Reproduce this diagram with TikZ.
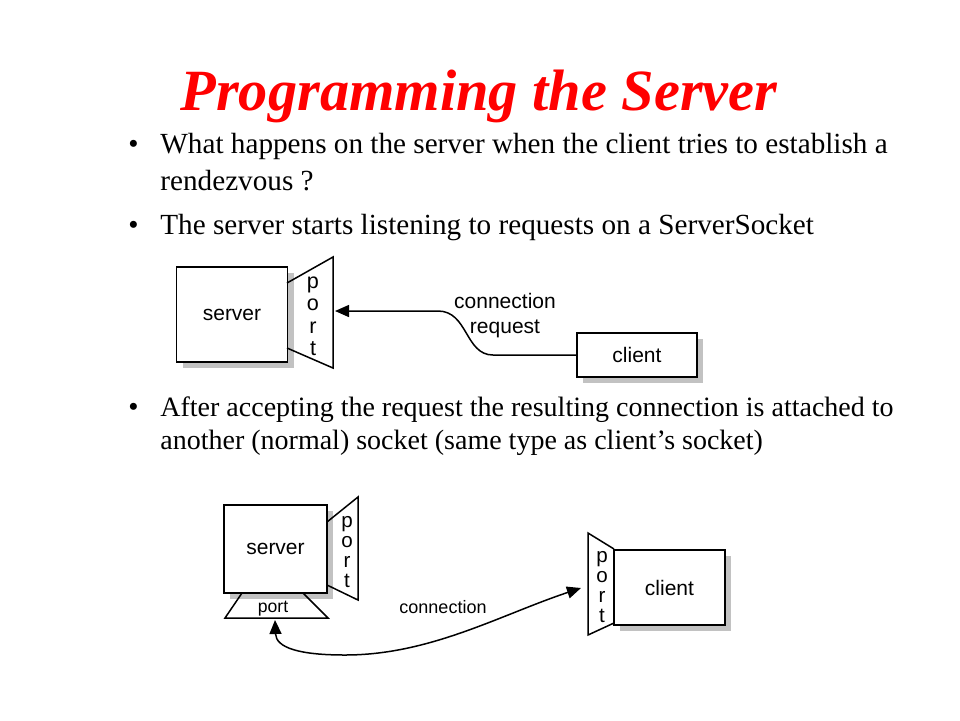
\documentclass[tikz,border=0pt]{standalone}
\usepackage{fontspec}
\setmainfont{Liberation Serif}
\newfontfamily\diagfont{Liberation Sans}
\usetikzlibrary{arrows.meta,shadows}

\begin{document}
\begin{tikzpicture}[x=0.5pt, y=-0.5pt, every node/.style={inner sep=0pt},
    body/.style={anchor=base west, font=\fontsize{14.6}{17}\selectfont},
    smallbody/.style={anchor=base west, font=\fontsize{14}{17}\selectfont},
    box/.style={draw, line width=0.75pt, fill=white, font=\diagfont\fontsize{10.5}{12}\selectfont,
        drop shadow={shadow xshift=3pt, shadow yshift=-3pt, fill=black!24, opacity=1}},
    portline/.style={line width=0.75pt, line join=miter},
    conn/.style={line width=0.75pt, >={Triangle[length=7pt, width=6pt]}}]
    \useasboundingbox (0,0) rectangle (960,720);

    % Title
    \node[anchor=base, text=red, font=\fontsize{29.2}{34}\selectfont\bfseries\itshape] (title) at (479,110) {Programming the Server};

    % Bullets
    \foreach \y/\n in {153/1, 234/2, 416/3} {
        \node[body] (dot\n) at (128,\y) {\textbullet};
    }
    \node[body] (b1a) at (160,153) {What happens on the server when the client tries to establish a};
    \node[body] (b1b) at (160,190) {rendezvous ?};
    \node[body] (b2) at (160,234) {The server starts listening to requests on a ServerSocket};
    \node[smallbody] (b3a) at (160,416) {After accepting the request the resulting connection is attached to};
    \node[smallbody] (b3b) at (160,449) {another (normal) socket (same type as client’s socket)};

    % First picture: listening socket
    \node[box, minimum width=55.5pt, minimum height=47.5pt] (server1) at (232,314.5) {server};
    \node[box, minimum width=60pt, minimum height=22pt] (client1) at (637,355) {client};
    \draw[portline] (287,283) -- (333,257) -- (333,368) -- (287,348);
    \foreach \l [count=\i] in {p,o,r,t} {
        \node[anchor=base, font=\diagfont\fontsize{10.8}{12}\selectfont] (port1\l) at (313,265.5+22.5*\i) {\l};
    }
    \coordinate (tip1) at (335,311);
    \draw[conn, ->] (client1.west) -- (493,355) .. controls (465,355) and (468,311) .. (438,311) -- (tip1);
    \node[anchor=base, font=\diagfont\fontsize{10.5}{12}\selectfont] (lab1a) at (505,308) {connection};
    \node[anchor=base, font=\diagfont\fontsize{10.5}{12}\selectfont] (lab1b) at (505,333) {request};

    % Second picture: accepted connection
    \node[box, minimum width=51.5pt, minimum height=44pt] (server2) at (275.5,549) {server};
    \node[box, minimum width=55.5pt, minimum height=37.5pt] (client2) at (669.5,587.5) {client};
    \draw[portline] (327,522) -- (358,497) -- (358,600) -- (327,585);
    \draw[portline] (242,593) -- (225,618) -- (328,618) -- (303,593);
    \draw[portline] (614,549) -- (588,533) -- (588,635) -- (614,623);
    \foreach \l [count=\i] in {p,o,r,t} {
        \node[anchor=base, font=\diagfont\fontsize{10.3}{12}\selectfont] (port2\l) at (347,507+20*\i) {\l};
        \node[anchor=base, font=\diagfont\fontsize{10.3}{12}\selectfont] (port3\l) at (602,542+20*\i) {\l};
    }
    \node[anchor=base, font=\diagfont\fontsize{8.8}{10}\selectfont] (bport) at (273,612) {port};
    \coordinate (tip2) at (275,620);
    \coordinate (tip3) at (581,588);
    \draw[conn, <->] (tip2) .. controls (276,648) and (300,655) .. (345,655) .. controls (430,655) and (500,615) .. (tip3);
    \node[anchor=base, font=\diagfont\fontsize{9}{10}\selectfont] (lab2) at (443,613) {connection};

\end{tikzpicture}
\end{document}
